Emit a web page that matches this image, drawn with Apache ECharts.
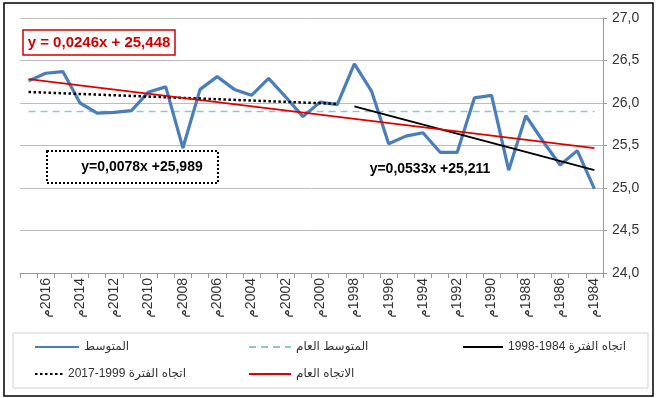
<!DOCTYPE html>
<html>
<head>
<meta charset="utf-8">
<script src="https://cdn.jsdelivr.net/npm/echarts@6/dist/echarts.min.js"></script>
<style>
  html, body { margin: 0; padding: 0; background: #fff; }
  #chart { width: 660px; height: 398px; }
</style>
</head>
<body>
<div id="chart"></div>
<script>
// السنوات من اليسار الى اليمين (2017 -> 1984)
var years = ['2017','2016','2015','2014','2013','2012','2011','2010','2009','2008',
  '2007','2006','2005','2004','2003','2002','2001','2000','1999','1998',
  '1997','1996','1995','1994','1993','1992','1991','1990','1989','1988',
  '1987','1986','1985','1984']
var avgValues = [26.26,26.35,26.37,26.00,25.88,25.89,25.91,26.13,26.19,25.47,
  26.16,26.31,26.16,26.09,26.29,26.07,25.84,26.01,25.98,26.46,
  26.14,25.52,25.61,25.65,25.42,25.42,26.06,26.09,25.21,25.85,
  25.55,25.27,25.44,24.99]
var meanLevel = 25.9
// نهايات خطوط الاتجاه كما تقرأ من الرسم
var trendAll = { from: '2017', to: '1984', v: [26.28, 25.47] }
var trendLate = { from: '1998', to: '1984', v: [25.96, 25.21] }
var trendEarly = { from: '2017', to: '1999', v: [26.13, 25.99] }
var yTicks = { min: 24, max: 27, step: 0.5 }

var names = {
  avg: 'المتوسط',
  mean: 'المتوسط العام',
  late: '1998-1984 اتجاه الفترة',
  early: '2017-1999 اتجاه الفترة',
  all: 'الاتجاه العام'
}

function endPoints (t) {
  return years.map(function (y) {
    if (y === t.from) return t.v[0]
    if (y === t.to) return t.v[1]
    return null
  })
}

var font = 'Arial, "Liberation Sans", "DejaVu Sans", sans-serif'
var chart = echarts.init(document.getElementById('chart'))

function legendItem (name, left, top, w) {
  return {
    data: [name], left: left, top: top,
    padding: 0,
    itemWidth: w, itemHeight: 10, itemGap: 0,
    selectedMode: false,
    itemStyle: { opacity: 0 },
    textStyle: { fontSize: 12, color: '#333', fontFamily: font }
  }
}

var option = {
  backgroundColor: '#fff',
  animation: false,
  grid: { left: 20, right: 57, top: 18, bottom: 125 },
  xAxis: {
    type: 'category',
    data: years,
    boundaryGap: true,
    axisLine: { lineStyle: { color: '#999', width: 1 } },
    axisTick: { show: true, interval: 0, length: 5, lineStyle: { color: '#999' } },
    axisLabel: {
      rotate: 90,
      margin: 5,
      fontSize: 14,
      color: '#333',
      fontFamily: font,
      interval: function (idx) { return idx % 2 === 1 },
      formatter: function (v) { return 'م\u200E' + v }
    },
    splitLine: { show: false }
  },
  yAxis: {
    type: 'value',
    position: 'right',
    min: yTicks.min,
    max: yTicks.max,
    interval: yTicks.step,
    axisLine: { show: true, lineStyle: { color: '#999' } },
    axisTick: { show: true, length: 4, lineStyle: { color: '#999' } },
    axisLabel: {
      margin: 9,
      fontSize: 14,
      color: '#333',
      fontFamily: font,
      formatter: function (v) { return v.toFixed(1).replace('.', ',') }
    },
    splitLine: { lineStyle: { color: '#bdbdbd', width: 1 } }
  },
  legend: [
    legendItem(names.avg, 34, 341, 44),
    legendItem(names.mean, 248, 341, 42),
    legendItem(names.late, 462, 341, 40),
    legendItem(names.early, 34, 368, 28),
    legendItem(names.all, 248, 368, 42)
  ],
  series: [
    {
      name: names.mean, type: 'line', symbol: 'none', data: years.map(function () { return meanLevel }),
      lineStyle: { color: '#8fc4d6', width: 1.5, type: [7, 5] }, itemStyle: { color: '#8fc4d6' }, z: 1
    },
    {
      name: names.avg, type: 'line', symbol: 'none', data: avgValues,
      lineStyle: { color: '#4a7ebb', width: 3.2 }, itemStyle: { color: '#4a7ebb' }, z: 2
    },
    {
      name: names.late, type: 'line', symbol: 'none', connectNulls: true, data: endPoints(trendLate),
      lineStyle: { color: '#000', width: 2 }, itemStyle: { color: '#000' }, z: 3
    },
    {
      name: names.early, type: 'line', symbol: 'none', connectNulls: true, data: endPoints(trendEarly),
      lineStyle: { color: '#000', width: 2.5, type: [2.5, 2.5] }, itemStyle: { color: '#000' }, z: 3
    },
    {
      name: names.all, type: 'line', symbol: 'none', connectNulls: true, data: endPoints(trendAll),
      lineStyle: { color: '#e00000', width: 1.8 }, itemStyle: { color: '#e00000' }, z: 4
    }
  ],
  graphic: [
    { type: 'rect', shape: { x: 4, y: 3, width: 649, height: 393 }, style: { fill: 'none', stroke: '#000', lineWidth: 1.5 }, silent: true },
    { type: 'rect', shape: { x: 13, y: 333, width: 635, height: 55 }, style: { fill: 'none', stroke: '#d0d0d0', lineWidth: 1 }, silent: true },
    { type: 'rect', shape: { x: 23, y: 30, width: 152, height: 25 }, style: { fill: '#fff', stroke: '#d00000', lineWidth: 1.5 }, z: 100 },
    { type: 'text', x: 99, y: 43, z: 101, style: { text: 'y = 0,0246x + 25,448', font: 'bold 15px ' + font, fill: '#d00000', align: 'center', verticalAlign: 'middle' } },
    { type: 'rect', shape: { x: 47, y: 151, width: 171, height: 32 }, style: { fill: '#fff', stroke: '#000', lineWidth: 2, lineDash: [2, 2] }, z: 100 },
    { type: 'text', x: 142, y: 167, z: 101, style: { text: 'y=0,0078x +25,989', font: 'bold 14px ' + font, fill: '#000', align: 'center', verticalAlign: 'middle' } },
    { type: 'text', x: 430, y: 169, z: 101, style: { text: 'y=0,0533x +25,211', font: 'bold 14px ' + font, fill: '#000', align: 'center', verticalAlign: 'middle' } }
  ]
}
chart.setOption(option)
</script>
</body>
</html>
